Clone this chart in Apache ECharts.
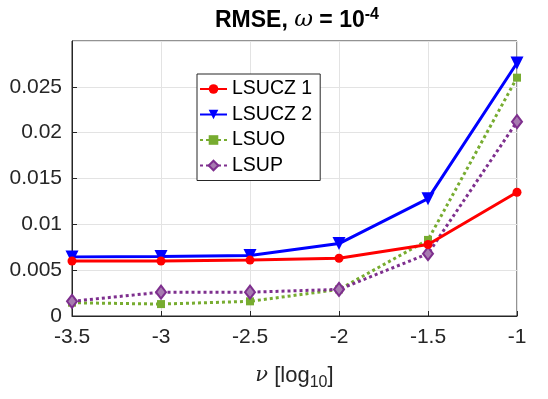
<!DOCTYPE html>
<html>
<head>
<meta charset="utf-8">
<script src="https://cdn.jsdelivr.net/npm/echarts@6/dist/echarts.min.js"></script>
<style>
  html, body { margin: 0; padding: 0; background: #fff; }
  #chart { width: 548px; height: 399px; }
</style>
</head>
<body>
<div id="chart"></div>
<script>
// nu values (log10) on the x axis
const nuValues = [-3.5, -3, -2.5, -2, -1.5, -1];
const seriesNames = ['LSUCZ 1', 'LSUCZ 2', 'LSUO', 'LSUP'];
const lsucz1 = [0.0060, 0.0060, 0.0061, 0.0063, 0.0078, 0.0135];
const lsucz2 = [0.00645, 0.0065, 0.0066, 0.0079, 0.0128, 0.0276];
const lsuo = [0.00145, 0.0013, 0.0016, 0.0029, 0.0083, 0.0260];
const lsup = [0.0016, 0.0026, 0.0026, 0.0029, 0.0068, 0.0212];

const FONT = 'Liberation Sans';
const AXIS_COLOR = '#262626';

const chart = echarts.init(document.getElementById('chart'));

const pairs = vals => nuValues.map((x, i) => [x, vals[i]]);

const option = {
  backgroundColor: '#fff',
  animation: false,
  title: {
    left: 292,
    top: 2,
    textAlign: 'center',
    text: '{b|RMSE, }{w|ω}{b| = 10}{sup|-4}',
    textStyle: {
      rich: {
        b: { fontFamily: FONT, fontSize: 23, fontWeight: 'bold', color: '#000' },
        w: { fontFamily: 'DejaVu Serif', fontSize: 23, fontStyle: 'italic', fontWeight: 'normal', color: '#000' },
        sup: { fontFamily: FONT, fontSize: 16, fontWeight: 'bold', color: '#000', padding: [0, 0, 11, 0] }
      }
    }
  },
  legend: {
    orient: 'vertical',
    left: 197,
    top: 74,
    data: seriesNames,
    backgroundColor: '#fff',
    borderColor: AXIS_COLOR,
    borderWidth: 1,
    padding: [5, 8, 5, 2],
    itemWidth: 27,
    itemHeight: 12,
    itemGap: 5.5,
    textStyle: { fontFamily: FONT, fontSize: 19.5, color: '#000', lineHeight: 20 }
  },
  grid: {
    left: 72,
    right: 31,
    top: 41,
    bottom: 83,
    show: true,
    borderColor: AXIS_COLOR,
    borderWidth: 1
  },
  xAxis: {
    type: 'value',
    min: -3.5,
    max: -1,
    interval: 0.5,
    name: '{i|ν} [log{sub|10}]',
    nameLocation: 'middle',
    nameGap: 44,
    nameTextStyle: {
      fontFamily: FONT,
      fontSize: 22,
      color: AXIS_COLOR,
      rich: {
        i: { fontFamily: 'DejaVu Serif', fontSize: 21, fontStyle: 'italic', color: AXIS_COLOR },
        sub: { fontFamily: FONT, fontSize: 16, color: AXIS_COLOR, padding: [15, 0, 0, 0] }
      }
    },
    axisLine: { lineStyle: { color: AXIS_COLOR, width: 1 } },
    axisTick: { inside: true, length: 5, lineStyle: { color: AXIS_COLOR } },
    axisLabel: { fontFamily: FONT, fontSize: 21, color: AXIS_COLOR, margin: 11 },
    splitLine: { show: true, lineStyle: { color: '#e3e3e3', width: 1 } }
  },
  yAxis: {
    type: 'value',
    min: 0,
    max: 0.03,
    interval: 0.005,
    axisLine: { show: true, lineStyle: { color: AXIS_COLOR, width: 1 } },
    axisTick: { show: true, inside: true, length: 5, lineStyle: { color: AXIS_COLOR } },
    axisLabel: {
      fontFamily: FONT, fontSize: 21, color: AXIS_COLOR, margin: 10,
      showMaxLabel: false,
      formatter: v => String(+v.toFixed(3))
    },
    splitLine: { show: true, lineStyle: { color: '#e3e3e3', width: 1 } }
  },
  series: [
    {
      name: seriesNames[0],
      type: 'line',
      data: pairs(lsucz1),
      symbol: 'circle',
      symbolSize: 9,
      lineStyle: { color: '#ff0000', width: 3 },
      itemStyle: { color: '#ff0000' },
      z: 4
    },
    {
      name: seriesNames[1],
      type: 'line',
      data: pairs(lsucz2),
      symbol: 'triangle',
      symbolRotate: 180,
      symbolSize: 13,
      lineStyle: { color: '#0000ff', width: 3 },
      itemStyle: { color: '#0000ff' },
      z: 3
    },
    {
      name: seriesNames[2],
      type: 'line',
      data: pairs(lsuo),
      symbol: 'rect',
      symbolSize: 8,
      lineStyle: { color: '#77ac30', width: 3, type: [3, 3] },
      itemStyle: { color: '#77ac30' },
      z: 2
    },
    {
      name: seriesNames[3],
      type: 'line',
      data: pairs(lsup),
      symbol: 'diamond',
      symbolSize: [10, 13],
      lineStyle: { color: '#7e2f8e', width: 3, type: [3, 3] },
      itemStyle: { color: '#a77bb0', borderColor: '#7e2f8e', borderWidth: 2 },
      z: 2
    }
  ]
};

chart.setOption(option);
</script>
</body>
</html>
